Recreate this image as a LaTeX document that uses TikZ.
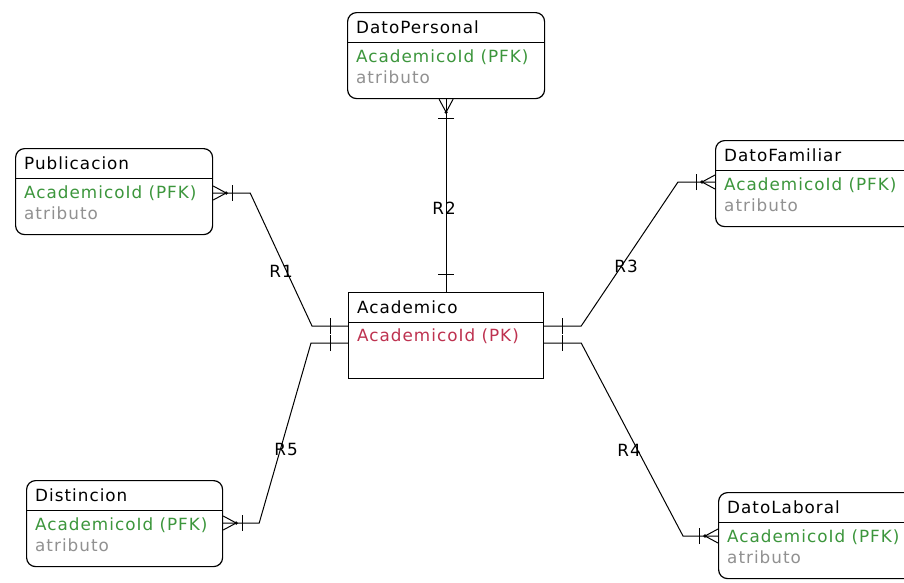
\documentclass[tikz,border=0pt]{standalone}
\usepackage{fontspec}
\newfontfamily\erfont{DejaVu Sans}[LetterSpace=6]
\usetikzlibrary{calc}

\definecolor{keygreen}{RGB}{60,150,60}
\definecolor{pkred}{RGB}{190,50,80}
\definecolor{attrgray}{RGB}{145,145,145}

\tikzset{
  x=1pt, y=-1pt,
  every node/.style={font=\erfont\fontsize{16.8}{18}\selectfont, inner sep=0pt},
  entbox/.style={draw, line width=1.2pt, rounded corners=9pt, anchor=north west,
                 minimum width=197pt, minimum height=86pt},
  basebox/.style={entbox, rounded corners=0pt, minimum width=195pt},
  divider/.style={line width=1pt},
  rel/.style={line width=1pt},
  txt/.style={anchor=base west},
  rlabel/.style={anchor=center}
}

% an entity box with its title row
\newcommand\erentity[6]{%
  \node[#6] (#1) at (#2,#3) {};
  \draw[divider] ([yshift=-30pt]#1.north west) -- ([yshift=-30pt]#1.north east);
  \node[txt] (#1-t) at ([xshift=9pt,yshift=-21pt]#1.north west) {#4};
}
% "many" end: crow's foot with a bar, #2 is the direction away from the box
\newcommand\manyend[2]{%
  \begin{scope}[shift={#1}, rotate=#2]
    \draw[rel] (0,-7) -- (13,0) -- (0,7);
    \fill (13,0) circle[radius=1.8pt];
    \draw[rel] (19,-8) -- (19,8);
  \end{scope}}
% "one" end: a single bar
\newcommand\oneend[2]{%
  \begin{scope}[shift={#1}, rotate=#2]
    \draw[rel] (18,-8) -- (18,8);
  \end{scope}}

\begin{document}
\begin{tikzpicture}
  \useasboundingbox (0,0) rectangle (904,582);
  \fill[white] (0,0) rectangle (904,582);
  \clip (0,0) rectangle (904,582);

  % central entity
  \erentity{ac}{348}{292}{Academico}{}{basebox, minimum height=86pt}
  \node[txt, text=pkred] (ac-k) at ([xshift=9pt,yshift=-49pt]ac.north west) {AcademicoId (PK)};

  % dependent entities
  \erentity{dp}{347}{12}{DatoPersonal}{}{entbox}
  \erentity{pub}{15}{148}{Publicacion}{}{entbox}
  \erentity{df}{715}{140}{DatoFamiliar}{}{entbox}
  \erentity{dis}{26}{480}{Distincion}{}{entbox, minimum width=196pt}
  \erentity{dl}{718}{492}{DatoLaboral}{}{entbox}

  \foreach \e in {dp,pub,df,dis,dl}{
    \node[txt, text=keygreen] (\e-k) at ([xshift=9pt,yshift=-50pt]\e.north west) {AcademicoId (PFK)};
    \node[txt, text=attrgray] (\e-a) at ([xshift=9pt,yshift=-71pt]\e.north west) {atributo};
  }

  % attachment points
  \coordinate (pub-r) at ([yshift=-45pt]pub.north east);
  \coordinate (dis-r) at ([yshift=-43pt]dis.north east);
  \coordinate (df-l)  at ([yshift=-42pt]df.north west);
  \coordinate (dl-l)  at ([yshift=-44pt]dl.north west);
  \coordinate (ac-l1) at ([yshift=-34pt]ac.north west);
  \coordinate (ac-l2) at ([yshift=-51pt]ac.north west);
  \coordinate (ac-r1) at ([yshift=-34pt]ac.north east);
  \coordinate (ac-r2) at ([yshift=-51pt]ac.north east);

  % relationships
  \draw[rel] (pub-r) -- ++(37,0) -- ($(ac-l1)+(-36,0)$) -- (ac-l1);
  \draw[rel] (dp.south) -- (ac.north);
  \draw[rel] (ac-r1) -- ++(37,0) -- ($(df-l)+(-37,0)$) -- (df-l);
  \draw[rel] (ac-r2) -- ++(37,0) -- ($(dl-l)+(-35,0)$) -- (dl-l);
  \draw[rel] (ac-l2) -- ++(-37,0) -- ($(dis-r)+(36,0)$) -- (dis-r);

  % cardinality marks
  \manyend{(pub-r)}{0}
  \manyend{(dis-r)}{0}
  \manyend{(df-l)}{180}
  \manyend{(dl-l)}{180}
  \manyend{(dp.south)}{-90}
  \oneend{(ac-l1)}{180}
  \oneend{(ac-l2)}{180}
  \oneend{(ac-r1)}{0}
  \oneend{(ac-r2)}{0}
  \oneend{(ac.north)}{90}

  % relationship names
  \node[rlabel] (r1) at (281,271) {R1};
  \node[rlabel] (r2) at (444,208) {R2};
  \node[rlabel] (r3) at (626,266) {R3};
  \node[rlabel] (r4) at (629,450) {R4};
  \node[rlabel] (r5) at (286,449) {R5};
\end{tikzpicture}
\end{document}
